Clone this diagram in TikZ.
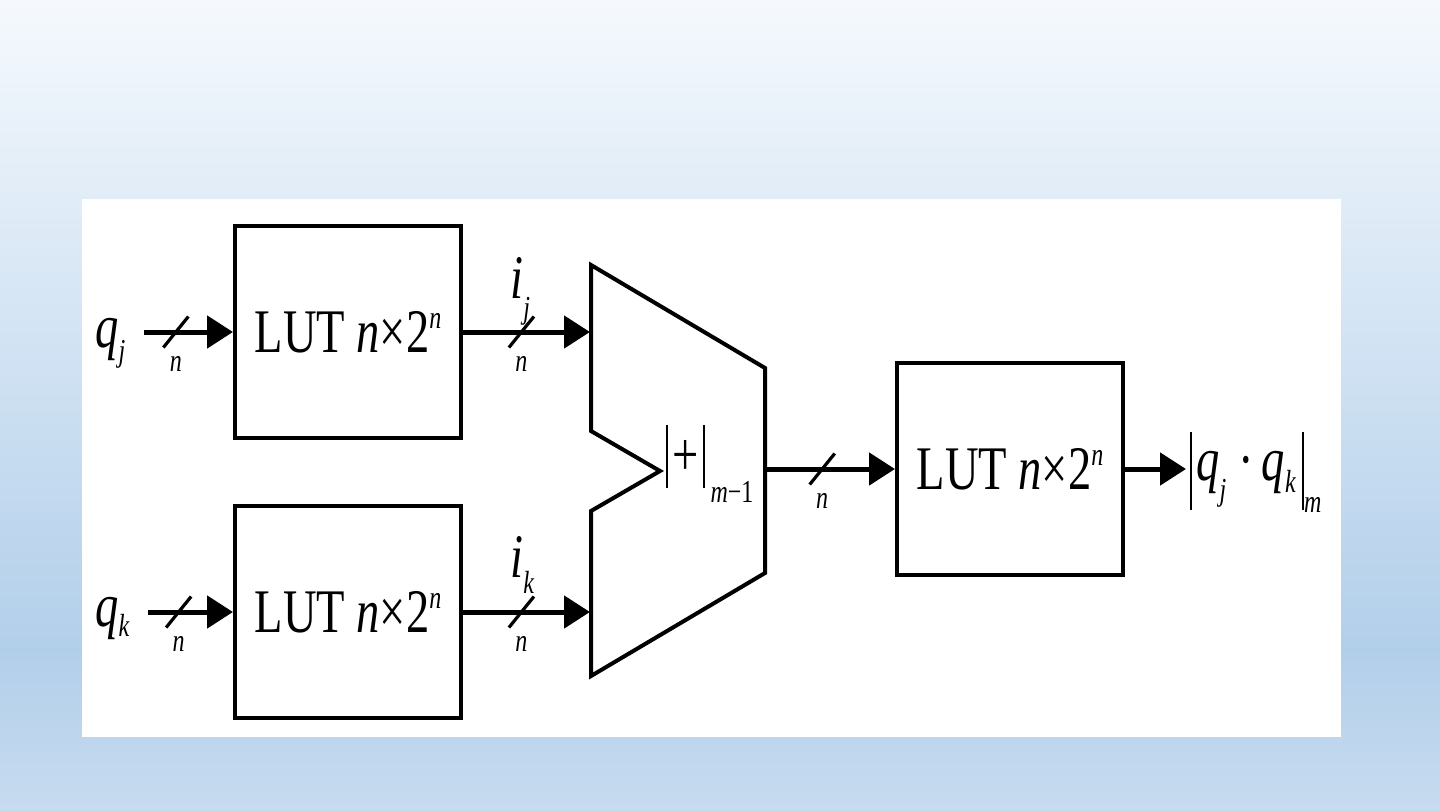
\documentclass[tikz,border=0pt]{standalone}
\usepackage{fontspec}
\setmainfont{Liberation Serif}[FakeStretch=0.75]
\usepackage{tikz}
\usetikzlibrary{arrows.meta}
\tikzset{>/.tip={Triangle[length=13pt,width=16pt]}}
\definecolor{bgtop}{HTML}{F5F9FD}
\definecolor{bgmid}{HTML}{B2CFEA}
\definecolor{bgbot}{HTML}{C7DBEF}
\newcommand{\sub}[1]{{\fontsize{16}{18}\selectfont\textit{#1}}}
\newcommand{\lut}{LUT \textit{n}×2\raisebox{12pt}{\sub{n}}}
\newcommand{\busmark}[1]{%
  \draw[line width=1.6pt] (#1) ++(-12.5,15.5) -- ++(25,-31);
  \node[inner sep=0pt] at ([yshift=-16pt]#1) {\sub{n}};}

\begin{document}
\begin{tikzpicture}[x=0.5pt, y=-0.5pt, font=\fontsize{31}{36}\selectfont,
  lutbox/.style={draw, line width=2pt, minimum width=113pt, minimum height=106pt, inner sep=0pt},
  wire/.style={->, line width=2.5pt},
  sig/.style={inner sep=0pt, anchor=base west}]
 \useasboundingbox (0,0) rectangle (1440,810);
 \shade[top color=bgtop, bottom color=bgmid] (0,0) rectangle (1440,650);
 \shade[top color=bgmid, bottom color=bgbot] (0,649) rectangle (1440,810);
 \fill[white] (82,199) rectangle (1341,737);

 \node[lutbox] (lut1) at (348,332) {\lut};
 \node[lutbox] (lut2) at (348,612) {\lut};
 \node[lutbox] (lut3) at (1010,469) {\lut};

 % adder
 \draw[line width=2pt, line join=miter] (591,265) -- (765,368) -- (765,573) -- (591,676)
   -- (591,511) -- (660,471) -- (591,431) -- cycle;
 \coordinate (addj) at (590,332);
 \coordinate (addk) at (590,612);
 \coordinate (addout) at (765,469);
 \node[sig] (addlbl) at (666,475) {\vrule width 1pt height 25pt depth 6.5pt\kern2pt+\kern2pt%
   \vrule width 1pt height 25pt depth 6.5pt\kern3pt\raisebox{-13.5pt}{\fontsize{16}{18}\selectfont\textit{m}−1}};

 \node[sig, inner xsep=9pt] (qj) at (77,347) {\textit{q}\raisebox{-7pt}{\sub{j}}};
 \node[sig, inner xsep=9pt] (qk) at (77,626) {\textit{q}\raisebox{-5pt}{\sub{k}}};
 \node[sig] (ij) at (510,298) {\textit{i}\raisebox{-10pt}{\sub{j}}};
 \node[sig] (ik) at (510,577) {\textit{i}\raisebox{-8pt}{\sub{k}}};
 \node[sig, inner xsep=2pt] (res) at (1186,480) {\vrule width 1pt height 24pt depth 15pt\kern2pt%
   \textit{q}\raisebox{-10pt}{\sub{j}}\kern6pt·\kern4pt\textit{q}\raisebox{-6pt}{\sub{k}}\kern3pt%
   \vrule width 1pt height 24pt depth 15pt\raisebox{-16pt}{\sub{m}}};

 \draw[wire] (qj.east |- lut1.west) -- coordinate[pos=0.36] (bj1) (lut1.west);
 \draw[wire] (qk.east |- lut2.west) -- coordinate[pos=0.36] (bk1) (lut2.west);
 \draw[wire] (lut1.east) -- coordinate[pos=0.46] (bj2) (addj);
 \draw[wire] (lut2.east) -- coordinate[pos=0.46] (bk2) (addk);
 \draw[wire] (addout) -- coordinate[pos=0.44] (bsum) (lut3.west);
 \draw[wire] (lut3.east) -- (res.west |- lut3.east);

 \busmark{bj1}
 \busmark{bk1}
 \busmark{bj2}
 \busmark{bk2}
 \busmark{bsum}
\end{tikzpicture}
\end{document}
